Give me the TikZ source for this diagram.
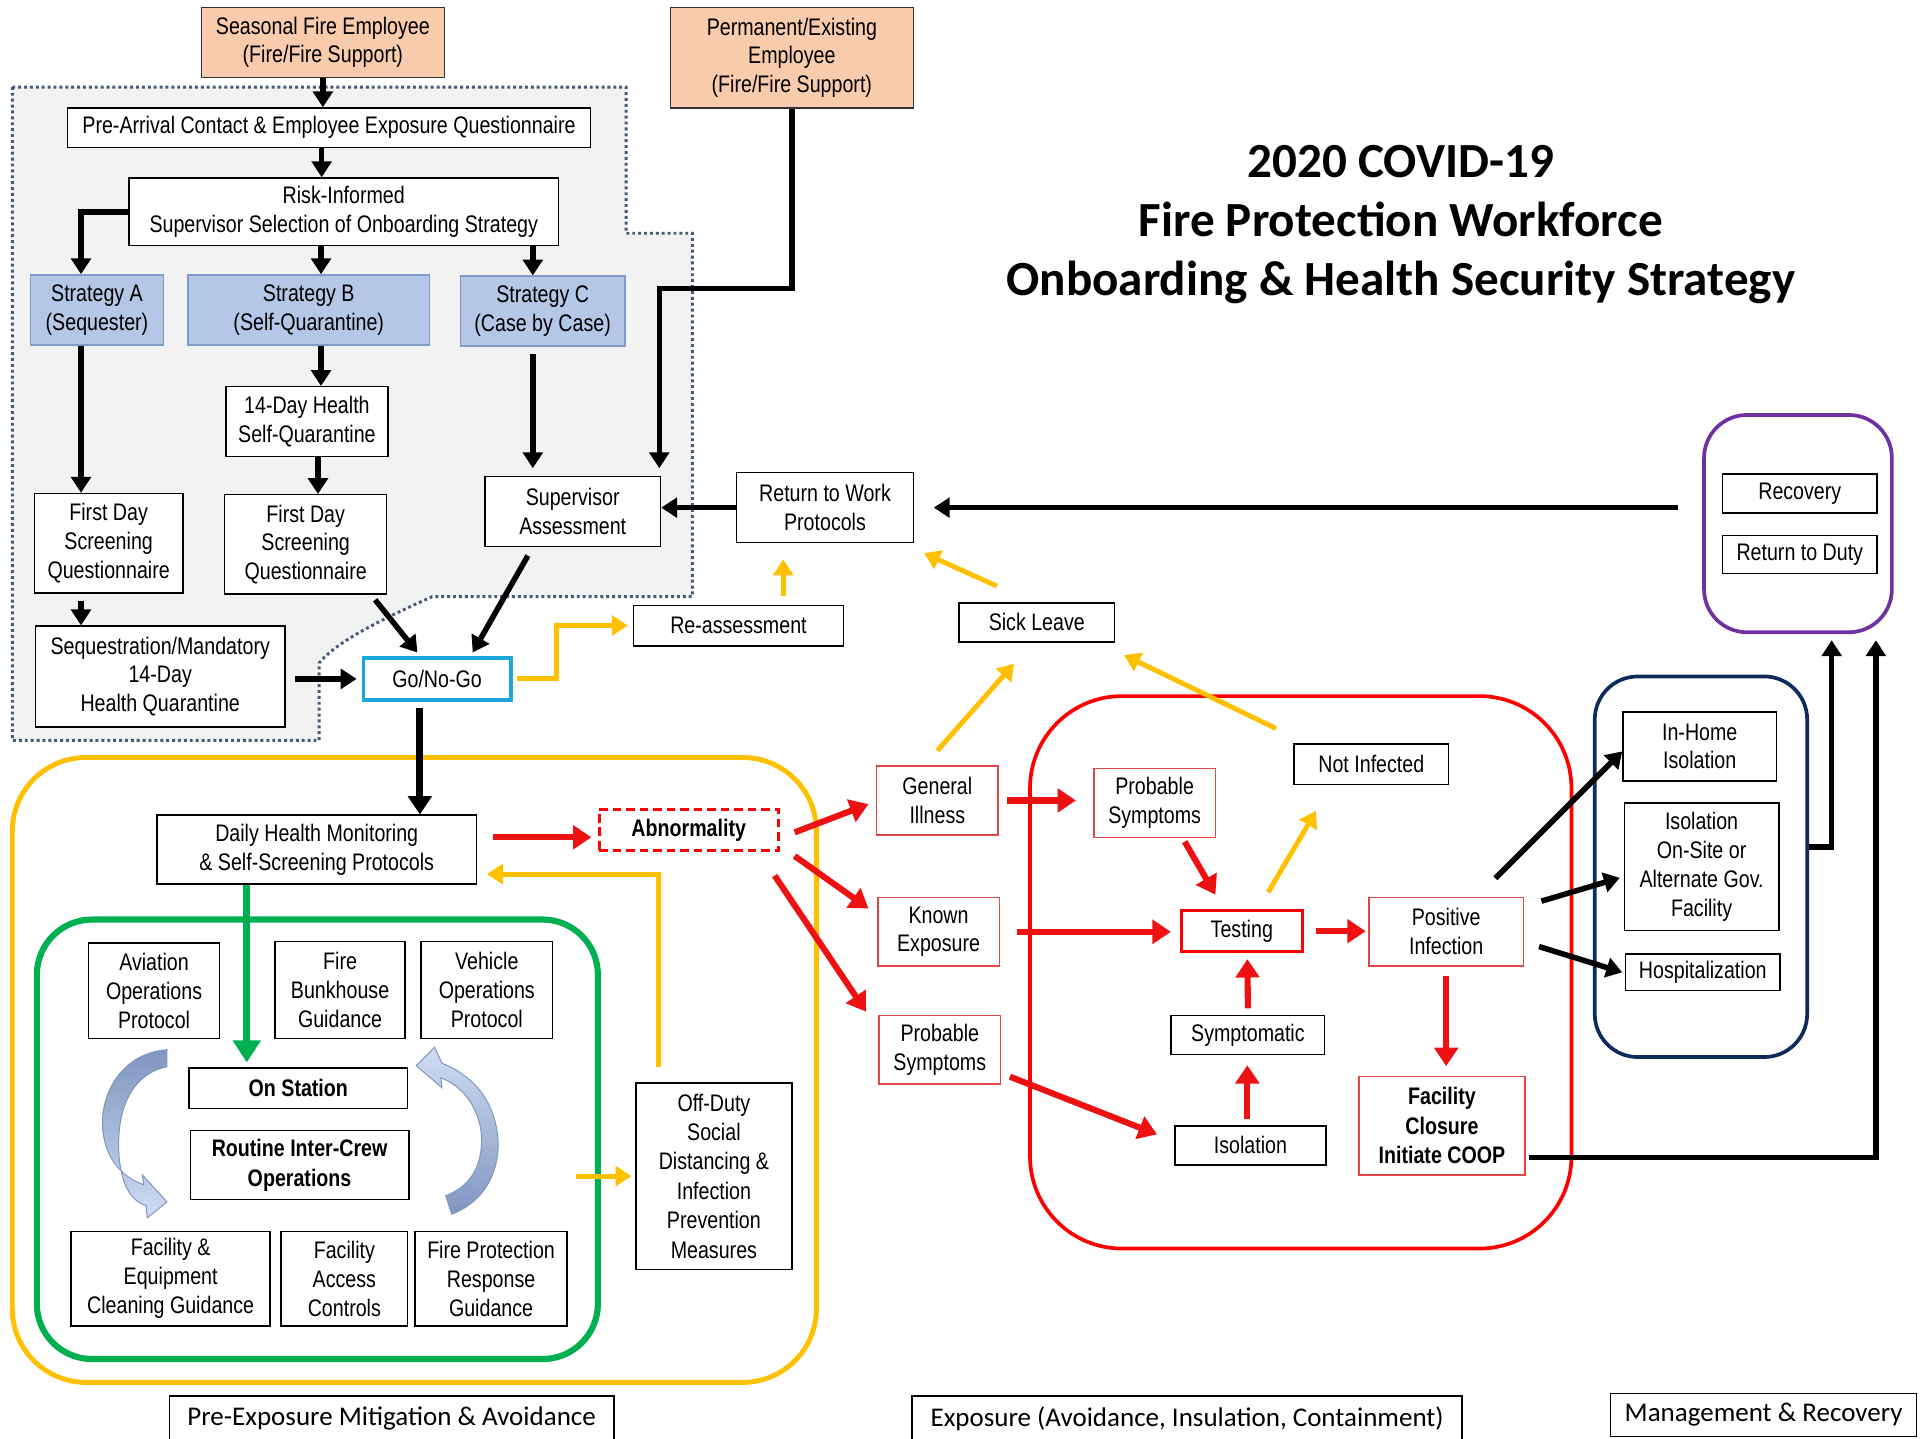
\documentclass[tikz,border=0pt]{standalone}
\usepackage{fontspec}
\setmainfont{Liberation Sans}[FakeStretch=0.82]
\newfontfamily\titlefont{Carlito}
\usetikzlibrary{arrows.meta,calc}

\definecolor{peach}{HTML}{F8CBAD}
\definecolor{stratfill}{HTML}{B4C7E7}
\definecolor{stratline}{HTML}{7F9CC8}
\definecolor{greyzone}{HTML}{F2F2F2}
\definecolor{dotline}{HTML}{475A7A}
\definecolor{gocyan}{HTML}{1BA7DC}
\definecolor{gold}{HTML}{FFC000}
\definecolor{grn}{HTML}{00B050}
\definecolor{alarm}{HTML}{FF0000}
\definecolor{arrred}{HTML}{EE1111}
\definecolor{softred}{HTML}{E04646}
\definecolor{navy}{HTML}{0F2A5C}
\definecolor{purp}{HTML}{7030A0}
\definecolor{cyclelight}{HTML}{CFDDF3}
\definecolor{cycledark}{HTML}{8096C0}
\definecolor{cycleline}{HTML}{7F96C0}

\begin{document}
\begin{tikzpicture}[x=1pt,y=-1pt,
  font=\fontsize{19.5}{23.5}\selectfont,
  box/.style={draw=black, line width=1.2pt, fill=white, align=center, inner sep=0pt},
  sz/.style 2 args={minimum width=#1pt, minimum height=#2pt},
  peachbox/.style={box, fill=peach, draw=black!80},
  stratbox/.style={box, fill=stratfill, draw=stratline},
  redbox/.style={box, draw=softred},
  frame/.style={draw, fill=none, inner sep=0pt},
  lbl/.style={box, font=\titlefont\fontsize{22}{26}\selectfont},
  blk/.style={draw=black, line width=4.5pt, -{Triangle[length=13pt,width=16pt]}},
  yel/.style={draw=gold, line width=4pt, -{Triangle[length=13pt,width=16pt]}},
  rarr/.style={draw=arrred, line width=5pt, -{Triangle[length=15pt,width=19pt]}},
  garr/.style={draw=grn, line width=6pt, -{Triangle[length=18pt,width=22pt]}}
]
\useasboundingbox (0,0) rectangle (1568,1172);
\fill[white] (0,0) rectangle (1568,1172);

% onboarding zone (grey, dotted outline)
\draw[dotline, line width=2.4pt, dash pattern=on 2.4pt off 2.4pt, fill=greyzone]
  (10,71) -- (510,71) -- (510,190) -- (564,190) -- (564,486) -- (352,486)
  .. controls (310,505) and (275,522) .. (260,540) -- (260,603) -- (10,603) -- cycle;

% phase frames
\node[frame, draw=gold, line width=4pt, rounded corners=60pt, sz={655}{509}] (preframe) at (337.5,871.5) {};
\node[frame, draw=grn, line width=5pt, rounded corners=45pt, sz={457}{358}] (stationframe) at (258.5,928) {};
\node[frame, draw=alarm, line width=3pt, rounded corners=75pt, sz={441}{450}] (expframe) at (1059.5,792) {};
\node[frame, draw=navy, line width=3pt, rounded corners=35pt, sz={173}{310}] (isoframe) at (1385.5,706) {};
\node[frame, draw=purp, line width=3pt, rounded corners=35pt, sz={153}{177}] (recframe) at (1464.5,426.5) {};

% title
\node[font=\titlefont\bfseries\fontsize{40}{48}\selectfont, align=center] (title) at (1141,183)
  {2020 COVID-19\\Fire Protection Workforce\\Onboarding \& Health Security Strategy};

% onboarding boxes
\node[peachbox, sz={198}{57}] (seasonal) at (263,34.5) {Seasonal Fire Employee\\(Fire/Fire Support)};
\node[peachbox, sz={198}{82}] (perm) at (645,47) {Permanent/Existing\\Employee\\(Fire/Fire Support)};
\node[box, sz={426}{32}] (prearr) at (268,104) {Pre-Arrival Contact \& Employee Exposure Questionnaire};
\node[box, sz={350}{55}] (risk) at (280,172.5) {Risk-Informed\\Supervisor Selection of Onboarding Strategy};
\node[stratbox, sz={108}{57}] (stratA) at (79,252.5) {Strategy A\\(Sequester)};
\node[stratbox, sz={197}{57}] (stratB) at (251.5,252.5) {Strategy B\\(Self-Quarantine)};
\node[stratbox, sz={134}{57}] (stratC) at (442,253.5) {Strategy C\\(Case by Case)};
\node[box, sz={132}{57}] (quar) at (250,343.5) {14-Day Health\\Self-Quarantine};
\node[box, sz={121}{81}] (fdA) at (88.5,442.5) {First Day\\Screening\\Questionnaire};
\node[box, sz={132}{81}] (fdB) at (249,443.5) {First Day\\Screening\\Questionnaire};
\node[box, sz={143}{57}] (supv) at (466.5,416.5) {Supervisor\\Assessment};
\node[box, sz={203}{82}] (seq) at (130.5,551) {Sequestration/Mandatory\\14-Day\\Health Quarantine};
\node[box, draw=gocyan, line width=3pt, sz={120}{34}] (gonogo) at (356,553) {Go/No-Go};

% return path boxes
\node[box, sz={144}{57}] (rtw) at (672,413.5) {Return to Work\\Protocols};
\node[box, sz={171}{33}] (reass) at (601.5,509.5) {Re-assessment};
\node[box, sz={127}{32}] (sick) at (844.5,507) {Sick Leave};
\node[box, sz={126}{32}] (recov) at (1466,402) {Recovery};
\node[box, sz={126}{31}] (rtd) at (1466,451.5) {Return to Duty};

% isolation options
\node[box, sz={125}{56}] (inhome) at (1384.5,608) {In-Home\\Isolation};
\node[box, sz={126}{104}] (isoon) at (1386,706) {Isolation\\On-Site or\\Alternate Gov.\\Facility};
\node[box, sz={126}{30}] (hosp) at (1387,792) {Hospitalization};

% exposure boxes
\node[redbox, sz={99}{56}] (probin) at (940.5,654) {Probable\\Symptoms};
\node[box, sz={126}{33}] (notinf) at (1117,622.5) {Not Infected};
\node[box, draw=alarm, line width=2.5pt, sz={99}{33}] (testing) at (1011.5,758.5) {Testing};
\node[redbox, sz={126}{56}] (posinf) at (1178,759) {Positive\\Infection};
\node[box, sz={125}{32}] (sympt) at (1016.5,843) {Symptomatic};
\node[box, sz={123}{32}] (isol) at (1018.5,933) {Isolation};
\node[redbox, sz={135}{80}, font=\fontsize{19.5}{24}\selectfont\bfseries] (closure) at (1174.5,917) {Facility\\Closure\\Initiate COOP};
\node[redbox, sz={99}{56}] (genill) at (763.5,652) {General\\Illness};
\node[redbox, sz={99}{56}] (known) at (764.5,759) {Known\\Exposure};
\node[redbox, sz={99}{56}] (probout) at (765.5,855) {Probable\\Symptoms};

% pre-exposure boxes
\node[box, sz={260}{56}] (daily) at (258,692) {Daily Health Monitoring\\\& Self-Screening Protocols};
\node[box, draw=alarm, line width=2.5pt, dash pattern=on 7pt off 4pt, sz={146}{34}, font=\fontsize{19.5}{23.5}\selectfont\bfseries] (abnorm) at (561,676) {Abnormality};
\node[box, sz={127}{152}, font=\fontsize{19.5}{24}\selectfont] (offduty) at (581.5,958) {Off-Duty\\Social\\Distancing \&\\Infection\\Prevention\\Measures};
\node[box, sz={107}{78}] (aviation) at (125.5,807) {Aviation\\Operations\\Protocol};
\node[box, sz={106}{79}] (bunk) at (277,806.5) {Fire\\Bunkhouse\\Guidance};
\node[box, sz={107}{79}] (vehicle) at (396.5,806.5) {Vehicle\\Operations\\Protocol};
\node[box, sz={178}{33}, font=\fontsize{19.5}{23.5}\selectfont\bfseries] (onstation) at (243,886.5) {On Station};
\node[box, sz={178}{56}, font=\fontsize{19.5}{24}\selectfont\bfseries] (routine) at (244,949) {Routine Inter-Crew\\Operations};
\node[box, sz={162}{77}] (facequip) at (139,1041.5) {Facility \&\\Equipment\\Cleaning Guidance};
\node[box, sz={103}{77}] (access) at (280.5,1041.5) {Facility\\Access\\Controls};
\node[box, sz={124}{77}] (fireprot) at (400,1041.5) {Fire Protection\\Response\\Guidance};

% phase labels
\node[lbl, sz={362}{37}] (lblpre) at (319,1155.5) {Pre-Exposure Mitigation \& Avoidance};
\node[lbl, sz={448}{37}] (lblexp) at (967,1155.5) {Exposure (Avoidance, Insulation, Containment)};
\node[lbl, sz={249}{35}] (lblmgmt) at (1436.5,1152.5) {Management \& Recovery};

% crew rotation arrows
\shade[top color=cycledark, bottom color=cyclelight, draw=cycleline, line width=0.8pt]
  (136,855) .. controls (98,858) and (80,893) .. (84,923)
  .. controls (87,945) and (100,959) .. (117,965)
  -- (116,957) -- (136,979) -- (120,992) -- (119,982)
  .. controls (101,977) and (95,950) .. (97,923)
  .. controls (99,893) and (114,873) .. (136,869) -- cycle;
\shade[top color=cyclelight, bottom color=cycledark, draw=cycleline, line width=0.8pt]
  (368,989) .. controls (397,978) and (409,950) .. (405,922)
  .. controls (401,895) and (385,876) .. (360,866)
  -- (354,853) -- (339,868) -- (360,886) -- (359,878)
  .. controls (377,884) and (390,903) .. (392,923)
  .. controls (394,948) and (384,966) .. (363,974) -- cycle;

% onboarding flow
\draw[blk] (seasonal.south) -- (seasonal.south |- prearr.north);
\draw[blk] ([xshift=-6pt]prearr.south) -- ([xshift=-6pt]prearr.south |- risk.north);
\draw[blk] (risk.west) -| ([xshift=-13pt]stratA.north);
\draw[blk] ([xshift=10pt]stratB.north |- risk.south) -- ([xshift=10pt]stratB.north);
\draw[blk] ([xshift=-8pt]stratC.north |- risk.south) -- ([xshift=-8pt]stratC.north);
\draw[blk] ([xshift=-13pt]stratA.south) -- ([xshift=-13pt]stratA.south |- fdA.north);
\draw[blk] ([xshift=10pt]stratB.south) -- ([xshift=10pt]stratB.south |- quar.north);
\draw[blk] ([xshift=9pt]quar.south) -- ([xshift=9pt]quar.south |- fdB.north);
\draw[blk, shorten <=6pt, shorten >=6pt] ([xshift=-8pt]stratC.south) -- ([xshift=-8pt]stratC.south |- supv.north);
\coordinate (pbend) at (537,235);
\draw[blk, shorten >=6pt] (perm.south) |- (pbend) -- (pbend |- supv.north);
\draw[blk, shorten <=6pt] ([xshift=-22.5pt]fdA.south) -- ([xshift=-22.5pt]fdA.south |- seq.north);
\draw[blk] ([xshift=-10pt,yshift=-4pt]fdB.south east) -- ([xshift=-16pt,yshift=3pt]gonogo.north);
\draw[blk] ([xshift=-36.5pt,yshift=-7pt]supv.south) -- ([xshift=29pt,yshift=3pt]gonogo.north);
\draw[blk, shorten >=4pt] ([xshift=8pt]seq.east |- gonogo.west) -- (gonogo.west);
\draw[blk] (rtw.west) -- (rtw.west -| supv.east);
\draw[blk] ([xshift=-20pt]recframe.west |- rtw.east) -- ([xshift=16pt]rtw.east);
\draw[blk, line width=5.5pt, -{Triangle[length=15pt,width=19pt]}] ([xshift=-14pt,yshift=-5pt]gonogo.south) -- ([xshift=-14pt]gonogo.south |- daily.north);

% return to work path
\draw[yel] ([xshift=4pt]gonogo.east) -- ++(32,0) |- ([xshift=-4pt]reass.west);
\draw[yel] ([xshift=36.5pt,yshift=7pt]reass.north) -- ([xshift=-34pt,yshift=-13pt]rtw.south);
\draw[yel] ([xshift=-32.5pt,yshift=13pt]sick.north) -- ([xshift=8pt,yshift=-8pt]rtw.south east);
\draw[yel] ([yshift=12pt]genill.north) -- ([xshift=-18.5pt,yshift=-17pt]sick.south);
\draw[yel] ([xshift=-14pt,yshift=12pt]notinf.north west) -- ([xshift=7pt,yshift=-10pt]sick.south east);
\draw[yel] ([xshift=21.5pt,yshift=14pt]testing.north) -- ([xshift=-45pt,yshift=-21pt]notinf.south);
\draw[yel] ([xshift=-45.5pt,yshift=12pt]offduty.north) |- ([xshift=8pt,yshift=-20pt]daily.east);
\draw[yel] ([xshift=-48pt]offduty.west) -- ([xshift=-3pt]offduty.west);

% daily monitoring to station
\draw[garr, shorten >=4pt] ([xshift=-57pt]daily.south) -- ([xshift=-57pt]daily.south |- onstation.north);

% exposure path
\draw[rarr] ([xshift=13pt,yshift=10pt]daily.east) -- ([xshift=-5pt,yshift=10pt]daily.east -| abnorm.west);
\draw[rarr] ([xshift=12pt,yshift=-2pt]abnorm.east) -- ([xshift=-6pt,yshift=-3pt]genill.west);
\draw[rarr] ([xshift=12pt,yshift=-3pt]abnorm.south east) -- ([xshift=-7pt,yshift=19pt]known.west);
\draw[rarr] ([xshift=70pt,yshift=-19pt]abnorm.south) -- ([xshift=-10pt,yshift=31pt]probout.west);
\draw[rarr] ([xshift=7pt]genill.east) -- ([xshift=-14pt]genill.east -| probin.west);
\draw[rarr] ([xshift=14pt]known.east) -- ([xshift=-7pt]known.east -| testing.west);
\draw[rarr] ([xshift=24.5pt,yshift=-3pt]probin.south) -- ([xshift=-21.5pt,yshift=12pt]testing.north);
\draw[rarr] ([xshift=7pt,yshift=-22pt]probout.east) -- ([xshift=-14pt,yshift=9pt]isol.west);
\draw[rarr] ([xshift=10pt]testing.east) -- ([xshift=-2pt]testing.east -| posinf.west);
\draw[rarr] ([yshift=5pt]sympt.north) -- ([xshift=4.5pt,yshift=-5pt]testing.south);
\draw[rarr] ([xshift=-2.5pt,yshift=5pt]isol.north) -- ([xshift=-2.5pt,yshift=-8pt]isol.north |- sympt.south);
\draw[rarr] ([yshift=-7pt]posinf.south) -- ([yshift=8pt]posinf.south |- closure.north);

% management
\draw[blk] ([xshift=40pt,yshift=15pt]posinf.north) -- ([yshift=-4pt]inhome.west);
\draw[blk] ([xshift=14pt,yshift=25pt]posinf.east) -- ([xshift=-3pt,yshift=-9pt]isoon.west);
\draw[blk] ([xshift=12pt,yshift=-12pt]posinf.east) -- ([xshift=-2pt]hosp.west);
\draw[blk, shorten >=5pt] ([yshift=16pt]isoframe.east) -| ([xshift=27.5pt]recframe.south);
\draw[blk, shorten >=5pt] ([xshift=3pt,yshift=-26pt]closure.east) -| ([xshift=63.5pt]recframe.south);
\end{tikzpicture}
\end{document}
